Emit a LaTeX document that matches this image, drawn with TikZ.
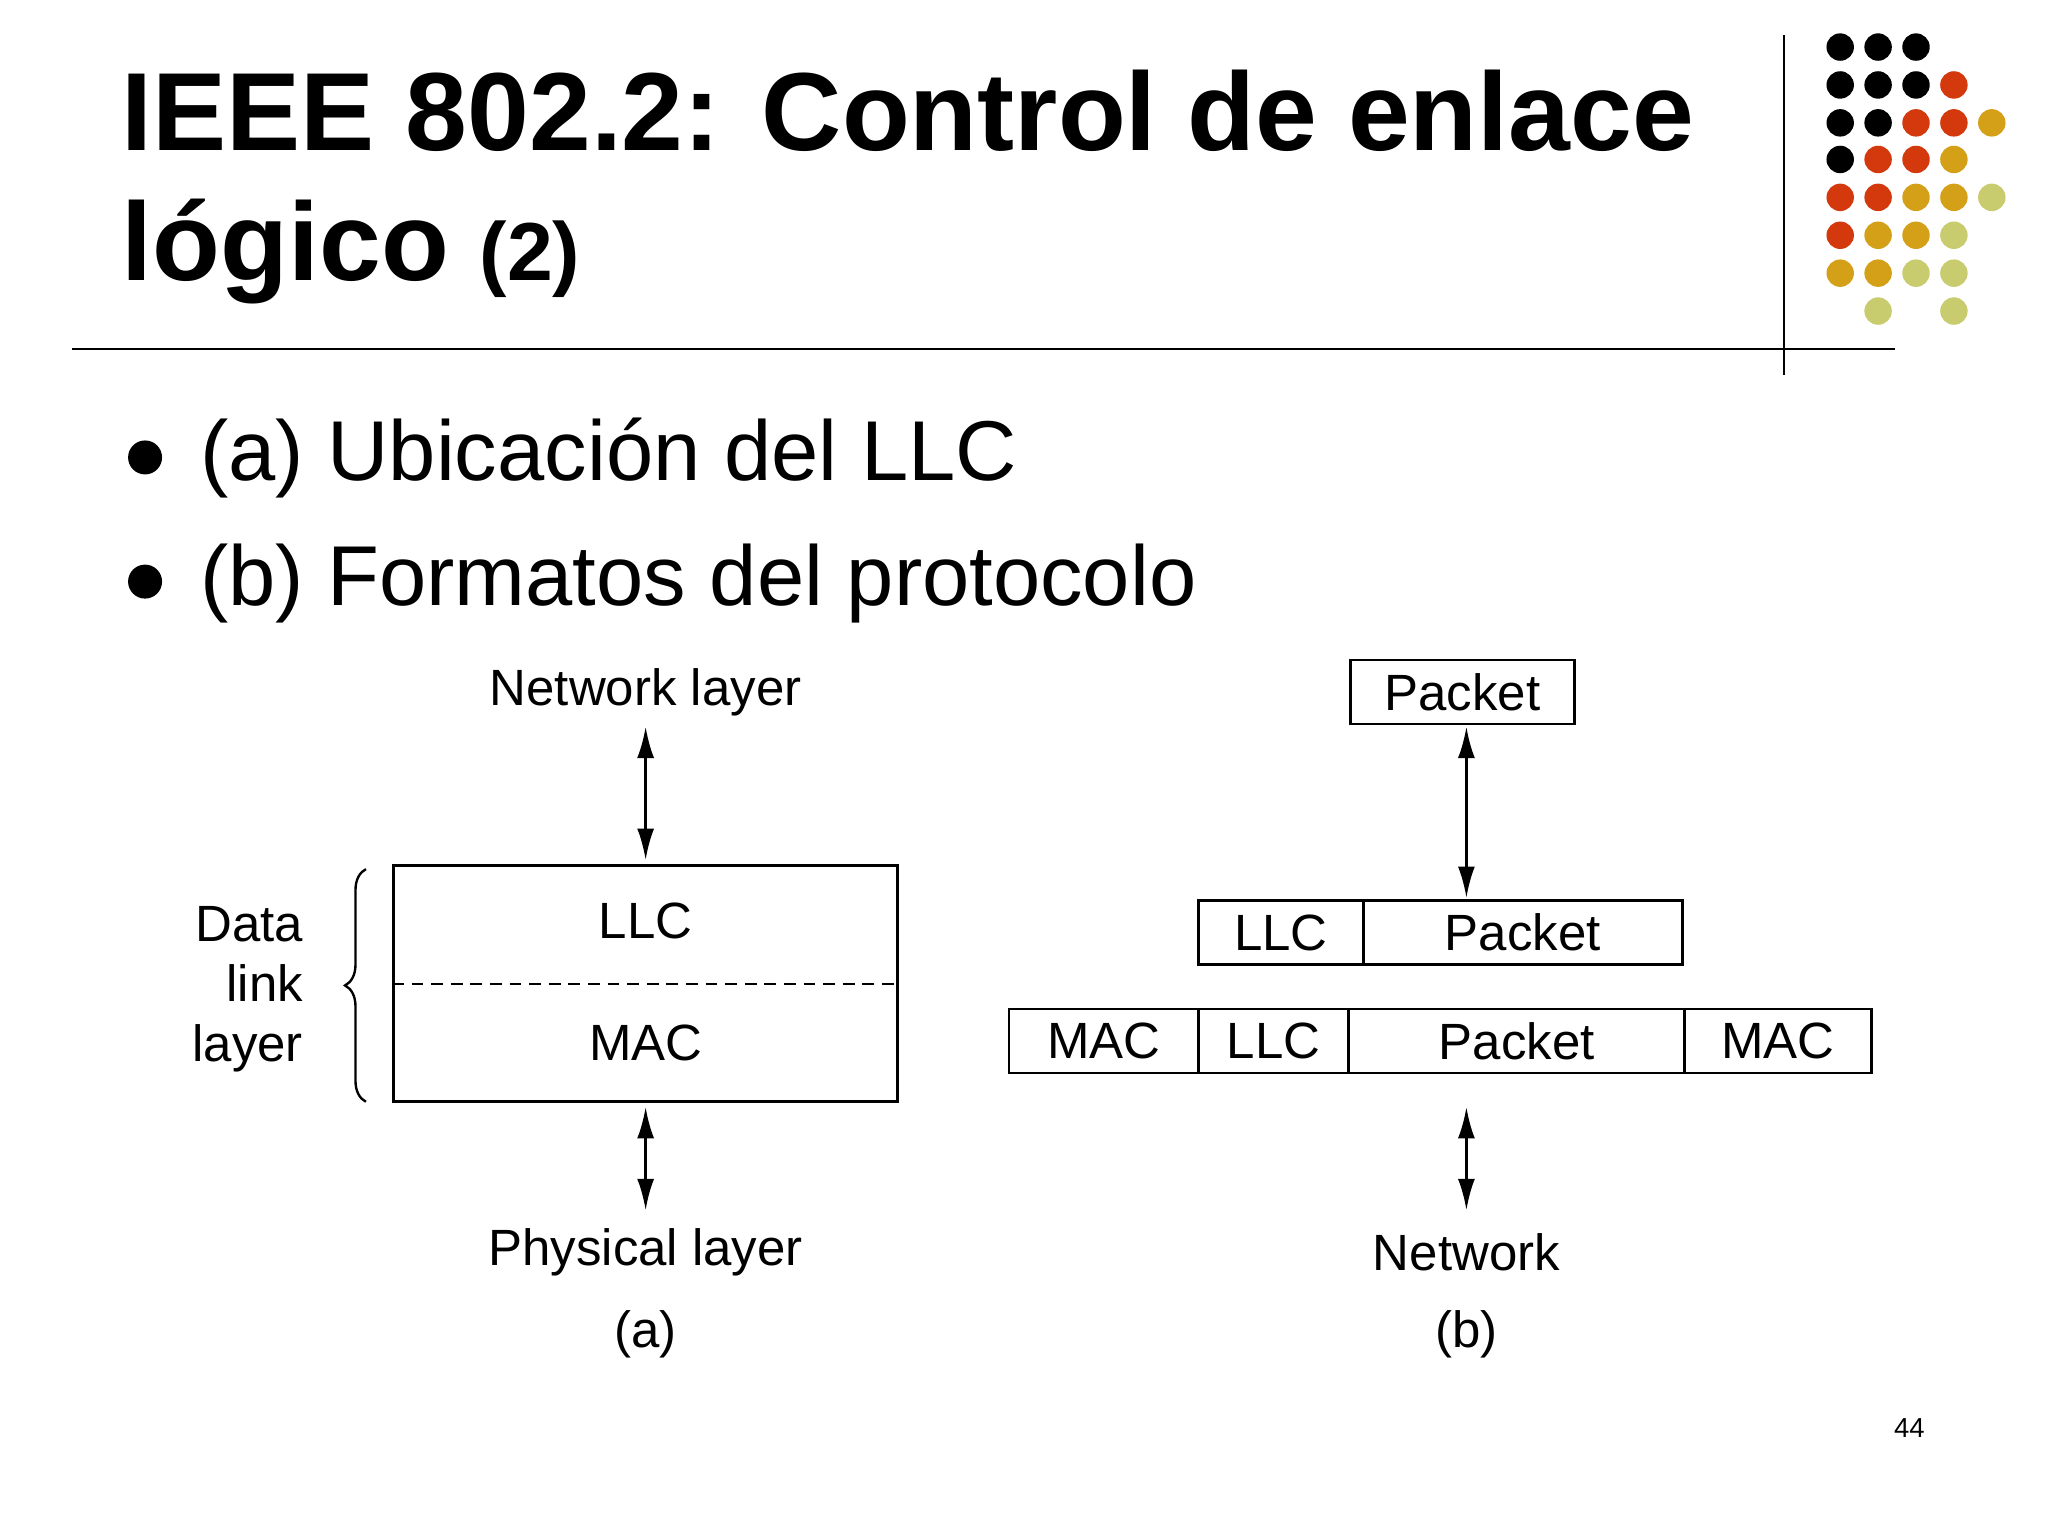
\documentclass[tikz,border=0pt]{standalone}
\usepackage{fontspec}
\setmainfont{Liberation Sans}
\usetikzlibrary{arrows.meta,decorations.pathreplacing}
\definecolor{dred}{HTML}{D4380D}
\definecolor{dgold}{HTML}{D4A017}
\definecolor{dlight}{HTML}{C8CC6E}
\begin{document}
\begin{tikzpicture}[x=1pt,y=-1pt,
  lbl/.style={font=\fontsize{39}{43}\selectfont,inner sep=0pt},
  cell/.style={draw,line width=2.2pt,font=\fontsize{39}{43}\selectfont,inner sep=0pt},
  dbl/.style={{Latex[length=24pt,width=13pt]}-{Latex[length=24pt,width=13pt]},line width=2.2pt}]
\useasboundingbox (0,0) rectangle (1567,1175);
\fill[white] (0,0) rectangle (1567,1175);
% title
\node[anchor=base west,inner sep=0pt,font=\fontsize{85}{90}\bfseries\selectfont] (t1) at (93,115) {IEEE 802.2: Control de enlace};
\node[anchor=base west,inner sep=0pt,font=\fontsize{85}{90}\bfseries\selectfont] (t2) at (93,215) {lógico \fontsize{63}{70}\selectfont(2)};
\draw[line width=1.5pt] (55,267) coordinate (h1) -- (1450,267) coordinate (h2);
\draw[line width=1.5pt] (1365,27) coordinate (v1) -- (1365,287) coordinate (v2);
% dots
\foreach \r/\cols in {36/{0/black,1/black,2/black},65/{0/black,1/black,2/black,3/dred},94/{0/black,1/black,2/dred,3/dred,4/dgold},122/{0/black,1/dred,2/dred,3/dgold},151/{0/dred,1/dred,2/dgold,3/dgold,4/dlight},180/{0/dred,1/dgold,2/dgold,3/dlight},209/{0/dgold,1/dgold,2/dlight,3/dlight},238/{1/dlight,3/dlight}}{
  \foreach \c/\col in \cols { \fill[\col] (1408+29*\c,\r) circle (10.5); }
}
% bullets
\foreach \y/\t [count=\i] in {345/{(a) Ubicación del LLC},440/{(b) Formatos del protocolo}}{
  \fill (111,\y+5) circle (13);
  \node[anchor=base west,inner sep=0pt,font=\fontsize{65}{70}\selectfont] (b\i) at (153,\y+23) {\t};
}
% (a)
\node[draw,line width=2.2pt,minimum width=386pt,minimum height=181pt,inner sep=0pt] (box) at (494,752.5) {};
\draw[line width=1.8pt,dash pattern=on 9pt off 6pt] (box.west |- 0,753) -- (box.east |- 0,753);
\node[lbl] (llc) at (494,705) {LLC};
\node[lbl] (mac) at (494,798) {MAC};
\node[lbl] (net) at (494,530) {Network layer};
\node[lbl] (phy) at (494,958) {Physical layer};
\node[lbl] (la) at (494,1021) {(a)};
\draw[dbl] (494,556) coordinate (a1) -- (494,658) coordinate (a2);
\draw[dbl] (494,847) coordinate (a3) -- (494,926) coordinate (a4);
\draw[line width=1.8pt,decorate,decoration={brace,amplitude=16pt,aspect=0.5}] (280,843) coordinate (br1) -- (280,665) coordinate (br2);
\node[lbl,align=right,anchor=east,font=\fontsize{39}{46}\selectfont] (dll) at (232,757) {Data\\link\\layer};
% (b)
\node[cell,minimum width=172pt,minimum height=49pt] (p0) at (1119,529.5) {Packet};
\node[cell,minimum width=126pt,minimum height=49pt] (l1) at (980,713.5) {LLC};
\node[cell,minimum width=244pt,minimum height=49pt] (p1) at (1165,713.5) {Packet};
\node[cell,minimum width=145pt,minimum height=49pt] (m2) at (844.5,796.5) {MAC};
\node[cell,minimum width=115pt,minimum height=49pt] (l2) at (974.5,796.5) {LLC};
\node[cell,minimum width=257pt,minimum height=49pt] (p2) at (1160.5,796.5) {Packet};
\node[cell,minimum width=143pt,minimum height=49pt] (m3) at (1360.5,796.5) {MAC};
\draw[dbl] (1122,556) coordinate (b1) -- (1122,687) coordinate (b2);
\draw[dbl] (1122,847) coordinate (b3) -- (1122,926) coordinate (b4);
\node[lbl] (nw) at (1122,958) {Network};
\node[lbl] (lb) at (1122,1021) {(b)};
\node[inner sep=0pt,font=\fontsize{21}{24}\selectfont] (pg) at (1461,1093) {44};
\end{tikzpicture}
\end{document}
